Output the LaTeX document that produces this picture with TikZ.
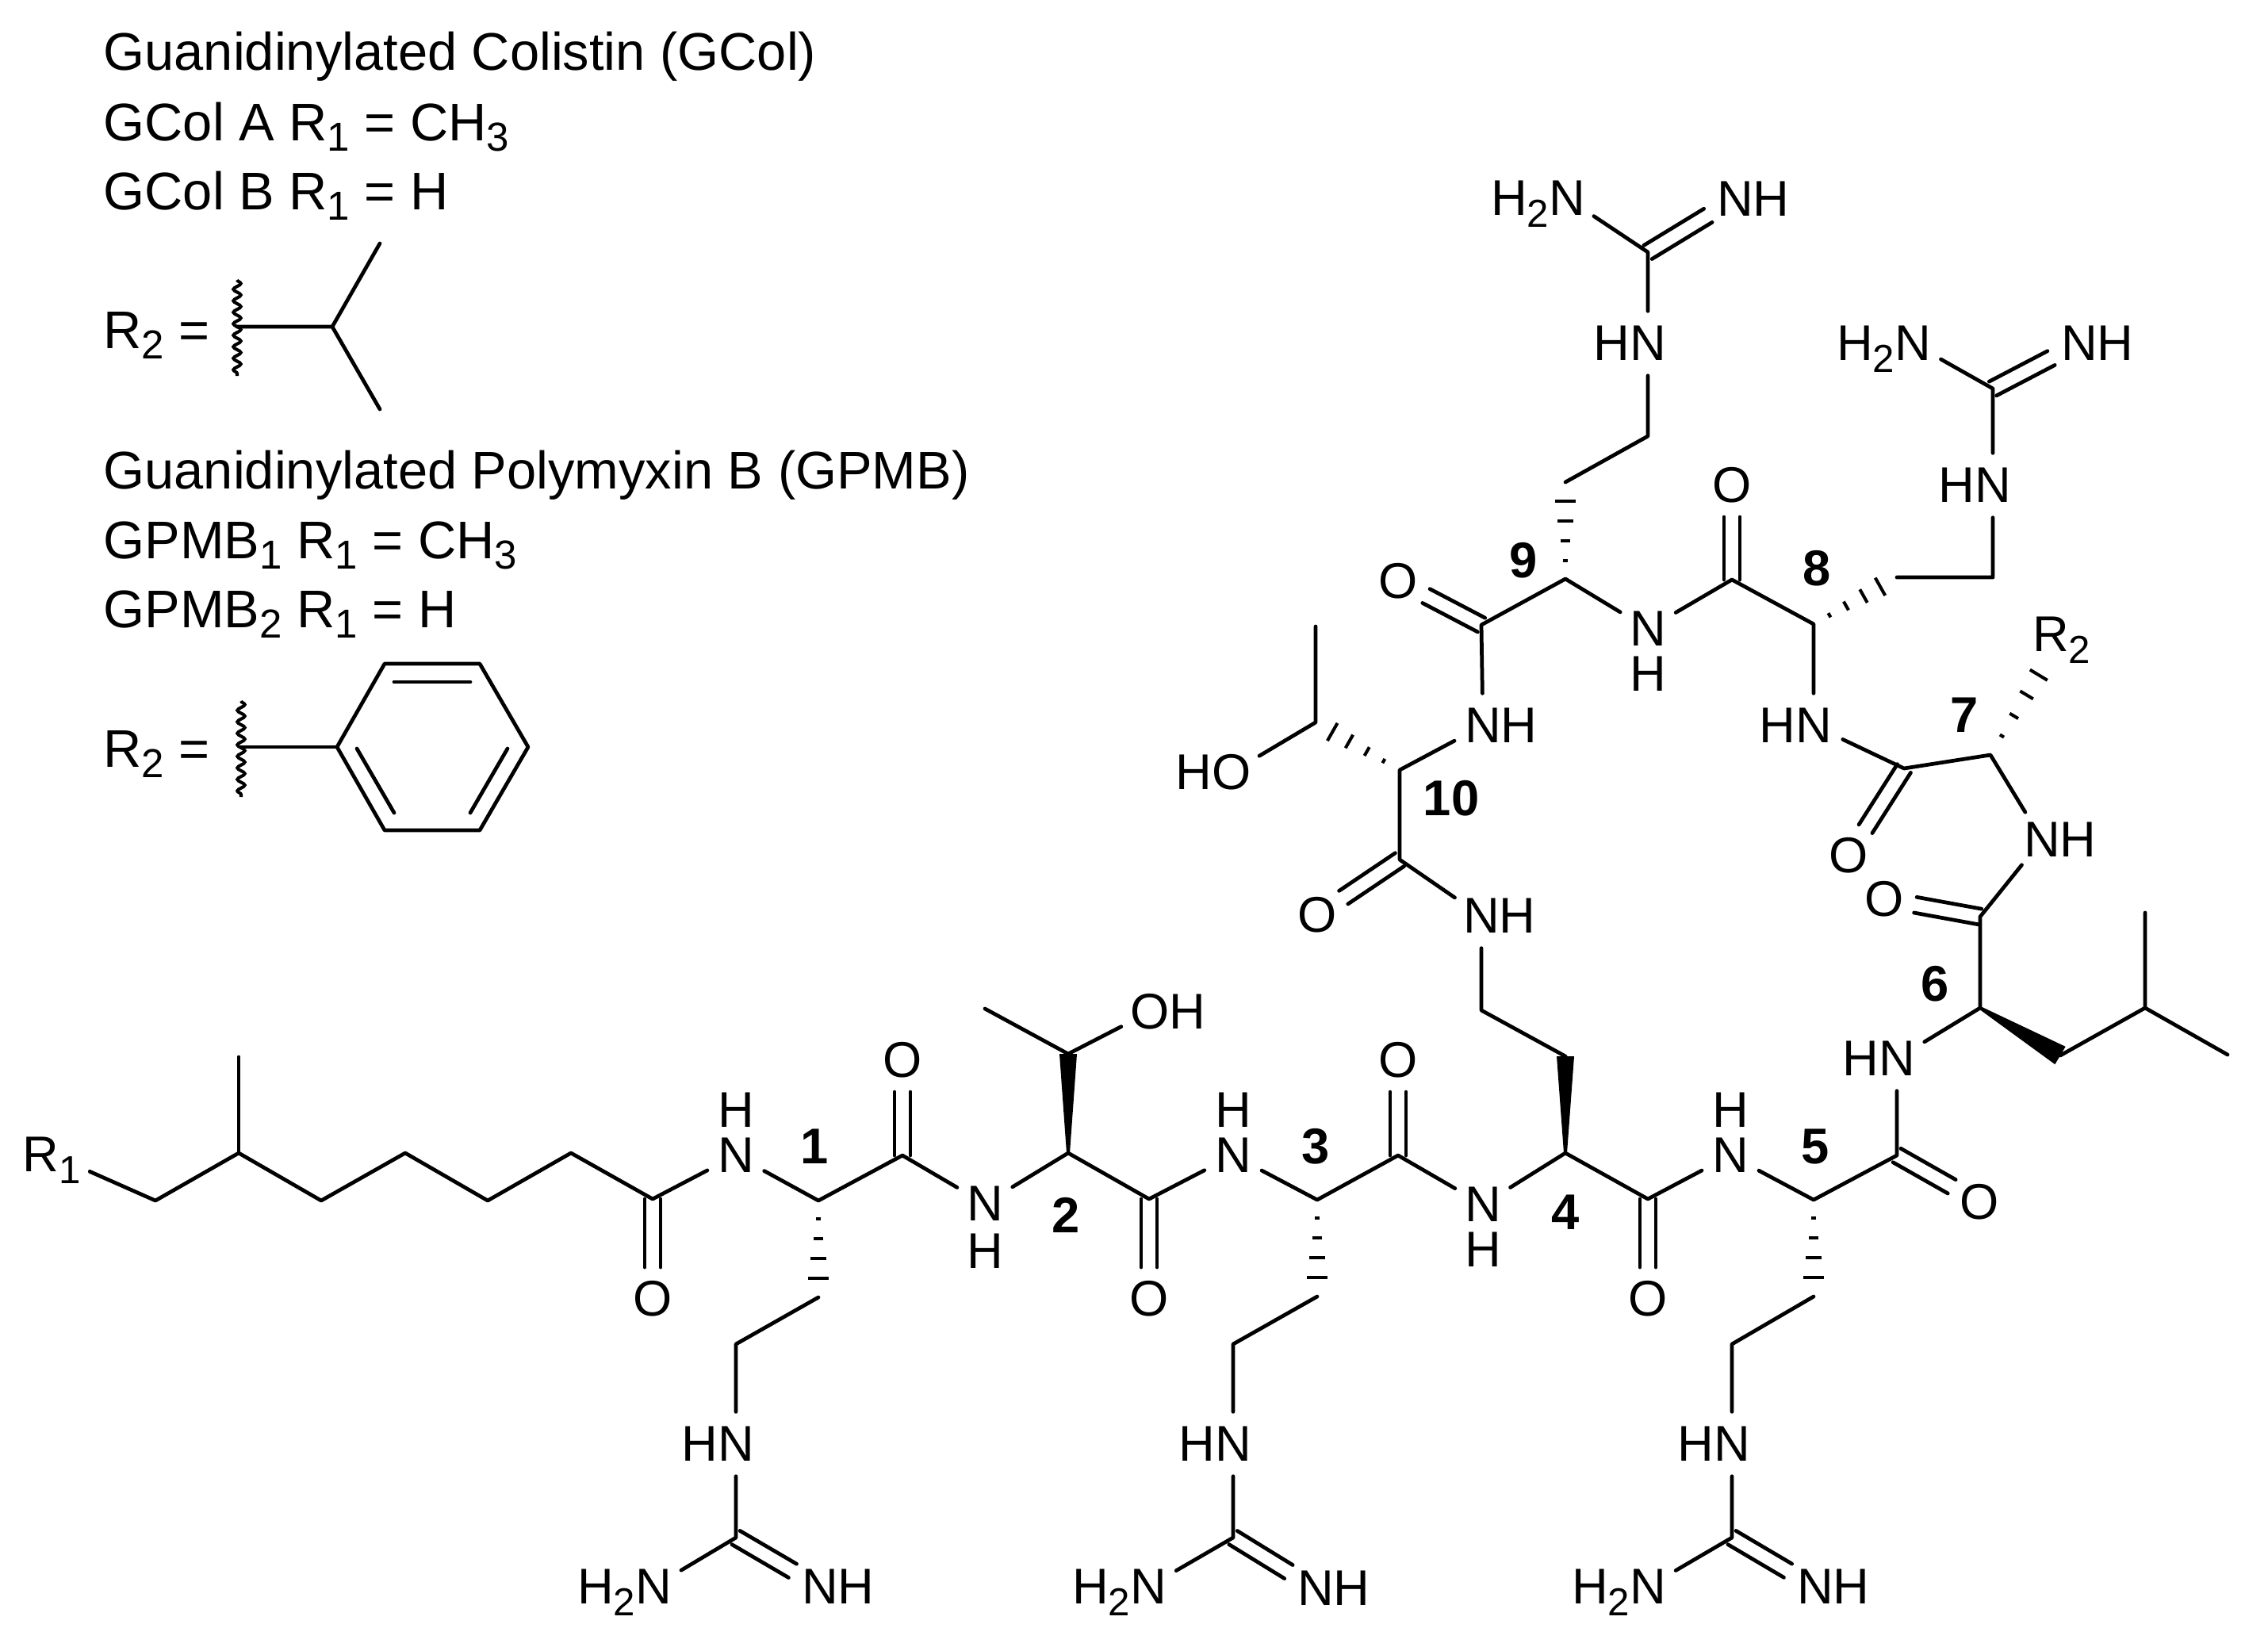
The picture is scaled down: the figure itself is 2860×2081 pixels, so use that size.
\documentclass[tikz,border=0pt]{standalone}
\usepackage{fontspec}
\setmainfont{Liberation Sans}
\usetikzlibrary{calc,decorations.pathmorphing}
\newcommand{\sbs}[1]{\smash{\raisebox{-4.2pt}{\fontsize{14}{14}\selectfont #1}}}
\newcommand{\sbh}[1]{\smash{\raisebox{-3.8pt}{\fontsize{14.5}{14.5}\selectfont #1}}}
\newcommand{\nhup}{N\llap{\smash{\raisebox{16.2pt}{H}}}}
\newcommand{\nhdown}[1]{N\llap{\smash{\raisebox{-#1}{H}}}}
\newcommand{\dblbond}[2]{%
  \draw[bondline,shorten >=0.4cm] ($(#1)!0.1cm!90:(#2)$) -- ($(#2)!0.1cm!-90:(#1)$);
  \draw[bondline,shorten >=0.4cm] ($(#1)!0.1cm!-90:(#2)$) -- ($(#2)!0.1cm!90:(#1)$);}
\newcommand{\hashbond}[2]{%
  \foreach \t in {.19,.39,.6,.8}{%
    \pgfmathsetmacro{\hw}{0.16*\t}
    \coordinate (hp) at ($(#1)!\t!(#2)$);
    \draw[hashline] ($(hp)!\hw cm!90:(#2)$) -- ($(hp)!\hw cm!-90:(#2)$);}}
\newcommand{\wedgebond}[3]{%
  \fill ($(#1)!0.02cm!90:(#2)$) -- ($(#2)!#3!-90:(#1)$) -- ($(#2)!#3!90:(#1)$) -- ($(#1)!0.02cm!-90:(#2)$) -- cycle;}
\tikzset{
  x=0.01cm,y=-0.01cm,
  bondline/.style={line width=1.35pt,line cap=round,line join=round},
  hashline/.style={line width=1.15pt},
  wavy/.style={line width=1.15pt,decorate,decoration={snake,amplitude=0.047cm,segment length=0.145cm}},
  atom/.style={circle,inner sep=0pt,minimum size=0.8cm,font=\fontsize{18}{20}\selectfont},
  hlabel/.style={inner sep=0pt,font=\fontsize{18}{20}\selectfont},
  num/.style={inner sep=0pt,font=\fontsize{18}{20}\selectfont\bfseries},
  head/.style={anchor=base west,inner sep=0pt,font=\fontsize{19}{22}\selectfont},
}
\begin{document}
\begin{tikzpicture}
\path[use as bounding box,fill=white] (0,0) rectangle (2860,2081);

% header text
\node[head] (t1) at (130,88) {Guanidinylated Colistin (GCol)};
\node[head] (t2) at (130,177) {GCol A R\sbh{1} = CH\sbh{3}};
\node[head] (t3) at (130,264) {GCol B R\sbh{1} = H};
\node[head] (t4) at (130,439) {R\sbh{2} =};
\node[head] (t5) at (130,616) {Guanidinylated Polymyxin B (GPMB)};
\node[head] (t6) at (130,704) {GPMB\sbh{1} R\sbh{1} = CH\sbh{3}};
\node[head] (t7) at (130,791) {GPMB\sbh{2} R\sbh{1} = H};
\node[head] (t8) at (130,967) {R\sbh{2} =};

% isopropyl
\coordinate (w1t) at (299,353); \coordinate (w1b) at (299,474);
\coordinate (w1m) at (299,412); \coordinate (ip) at (419,412);
\coordinate (ip1) at (479,307); \coordinate (ip2) at (479,516);
\draw[wavy] (w1t) -- (w1b);
\draw[bondline] (w1m) -- (ip) -- (ip1);
\draw[bondline] (ip) -- (ip2);

% phenyl
\coordinate (w2t) at (304,884); \coordinate (w2b) at (304,1005);
\coordinate (w2m) at (304,942);
\coordinate (ph1) at (425,942); \coordinate (ph2) at (485,837);
\coordinate (ph3) at (605,837); \coordinate (ph4) at (666,942);
\coordinate (ph5) at (605,1047); \coordinate (ph6) at (485,1047);
\coordinate (pa1) at (497,860); \coordinate (pa2) at (593,860);
\coordinate (pb1) at (640,944); \coordinate (pb2) at (593,1025);
\coordinate (pc1) at (450,944); \coordinate (pc2) at (497,1025);
\draw[wavy] (w2t) -- (w2b);
\draw[bondline] (w2m) -- (ph1);
\draw[bondline] (ph1) -- (ph2) -- (ph3) -- (ph4) -- (ph5) -- (ph6) -- cycle;
\draw[bondline] (pa1) -- (pa2);
\draw[bondline] (pb1) -- (pb2);
\draw[bondline] (pc1) -- (pc2);

% backbone carbons
\coordinate (ch1) at (196,1514); \coordinate (ch2) at (301,1454);
\coordinate (chm) at (301,1333); \coordinate (ch3) at (405,1514);
\coordinate (ch4) at (511,1454); \coordinate (ch5) at (615,1514);
\coordinate (ch6) at (720,1454);
\coordinate (co1) at (823,1512); \coordinate (ca1) at (1032,1514);
\coordinate (co2) at (1138,1457); \coordinate (ca2) at (1347,1454);
\coordinate (co3) at (1449,1512); \coordinate (ca3) at (1661,1513);
\coordinate (co4) at (1763,1457); \coordinate (ca4) at (1974,1454);
\coordinate (co5) at (2078,1512); \coordinate (ca5) at (2287,1513);
\coordinate (co6) at (2392,1457); \coordinate (ca6) at (2497,1271);
\coordinate (co7) at (2497,1156); \coordinate (ca7) at (2510,952);
\coordinate (co8) at (2401,969);  \coordinate (ca8) at (2287,787);
\coordinate (co9) at (2184,731);  \coordinate (ca9) at (1974,730);
\coordinate (co10) at (1868,788); \coordinate (ca10) at (1765,971);
\coordinate (co11) at (1765,1084);

% heteroatoms of the backbone
\node[atom,minimum size=1.04cm] (r1) at (65,1456) {R\sbs{1}};
\node[atom] (n1) at (928,1457) {\nhup};
\node[atom] (n2) at (1242,1518) {\nhdown{17pt}};
\node[atom] (n3) at (1555,1457) {\nhup};
\node[atom] (n4) at (1870,1519) {\nhdown{16.2pt}};
\node[atom] (n5) at (2182,1457) {\nhup};
\node[atom] (n6) at (2392,1335) {\llap{H}N};
\node[atom] (n7) at (2575,1059) {N\rlap{H}};
\node[atom] (n8) at (2287,915) {\llap{H}N};
\node[atom] (n9) at (2078,793) {\nhdown{16.2pt}};
\node[atom] (n10) at (1870,915) {N\rlap{H}};
\node[atom] (n11) at (1868,1155) {N\rlap{H}};

\node[atom] (o1) at (823,1638) {O};
\node[atom] (o2) at (1138,1337) {O};
\node[atom] (o3) at (1449,1638) {O};
\node[atom] (o4) at (1763,1337) {O};
\node[atom] (o5) at (2078,1638) {O};
\node[atom] (o6) at (2496,1516) {O};
\node[atom] (o7) at (2376,1134) {O};
\node[atom] (o8) at (2331,1079) {O};
\node[atom] (o9) at (2184,612) {O};
\node[atom] (o10) at (1763,733) {O};
\node[atom] (o11) at (1661,1154) {O};

% residue numbers
\node[num] (l1) at (1027,1446) {1};
\node[num] (l2) at (1344,1532) {2};
\node[num] (l3) at (1659,1446) {3};
\node[num] (l4) at (1974,1529) {4};
\node[num] (l5) at (2289,1446) {5};
\node[num] (l6) at (2440,1241) {6};
\node[num] (l7) at (2477,902) {7};
\node[num] (l8) at (2291,717) {8};
\node[num] (l9) at (1921,707) {9};
\node[num] (l10) at (1830,1007) {10};

% main chain
\draw[bondline] (r1) -- (ch1) -- (ch2) -- (ch3) -- (ch4) -- (ch5) -- (ch6) -- (co1) -- (n1);
\draw[bondline] (ch2) -- (chm);
\draw[bondline] (n1) -- (ca1) -- (co2) -- (n2) -- (ca2) -- (co3) -- (n3) -- (ca3) -- (co4) -- (n4) -- (ca4) -- (co5) -- (n5) -- (ca5) -- (co6) -- (n6) -- (ca6) -- (co7) -- (n7) -- (ca7) -- (co8) -- (n8) -- (ca8) -- (co9) -- (n9) -- (ca9) -- (co10) -- (n10) -- (ca10) -- (co11) -- (n11);
\dblbond{co1}{o1}
\dblbond{co2}{o2}
\dblbond{co3}{o3}
\dblbond{co4}{o4}
\dblbond{co5}{o5}
\dblbond{co6}{o6}
\dblbond{co7}{o7}
\dblbond{co8}{o8}
\dblbond{co9}{o9}
\dblbond{co10}{o10}
\dblbond{co11}{o11}

% residue 1 side chain
\coordinate (s1b) at (1032,1636); \coordinate (s1g) at (928,1695);
\coordinate (g1c) at (928,1939);
\node[atom] (g1n) at (928,1821) {\llap{H}N};
\node[atom] (g1a) at (824,2001) {\llap{H\sbs{2}}N};
\node[atom] (g1i) at (1034,2001) {N\rlap{H}};
\hashbond{ca1}{s1b}
\draw[bondline] (s1b) -- (s1g) -- (g1n) -- (g1c) -- (g1a);
\dblbond{g1c}{g1i}

% residue 2 side chain
\coordinate (s2b) at (1347,1329); \coordinate (s2m) at (1242,1272);
\node[atom] (s2o) at (1450,1276) {O\rlap{H}};
\wedgebond{ca2}{s2b}{0.11cm}
\draw[bondline] (s2m) -- (s2b) -- (s2o);

% residue 3 side chain
\coordinate (s3b) at (1661,1635); \coordinate (s3g) at (1555,1695);
\coordinate (g3c) at (1555,1939);
\node[atom] (g3n) at (1555,1821) {\llap{H}N};
\node[atom] (g3a) at (1448,2001) {\llap{H\sbs{2}}N};
\node[atom] (g3i) at (1659,2003) {N\rlap{H}};
\hashbond{ca3}{s3b}
\draw[bondline] (s3b) -- (s3g) -- (g3n) -- (g3c) -- (g3a);
\dblbond{g3c}{g3i}

% residue 4 side chain
\coordinate (s4b) at (1974,1332); \coordinate (s4g) at (1868,1274);
\wedgebond{ca4}{s4b}{0.11cm}
\draw[bondline] (s4b) -- (s4g) -- (n11);

% residue 5 side chain
\coordinate (s5b) at (2287,1635); \coordinate (s5g) at (2184,1695);
\coordinate (g5c) at (2184,1939);
\node[atom] (g5n) at (2184,1821) {\llap{H}N};
\node[atom] (g5a) at (2078,2001) {\llap{H\sbs{2}}N};
\node[atom] (g5i) at (2289,2001) {N\rlap{H}};
\hashbond{ca5}{s5b}
\draw[bondline] (s5b) -- (s5g) -- (g5n) -- (g5c) -- (g5a);
\dblbond{g5c}{g5i}

% residue 6 side chain
\coordinate (s6b) at (2598,1331); \coordinate (s6g) at (2705,1271);
\coordinate (s6m) at (2705,1151); \coordinate (s6n) at (2809,1330);
\wedgebond{ca6}{s6b}{0.13cm}
\draw[bondline] (s6b) -- (s6g) -- (s6m);
\draw[bondline] (s6g) -- (s6n);

% residue 7 side chain
\coordinate (s7e) at (2586,826);
\node[hlabel] (r2) at (2586,800) {R\rlap{\sbs{2}}};
\hashbond{ca7}{s7e}

% residue 8 side chain
\coordinate (s8b) at (2392,728); \coordinate (s8g) at (2513,728);
\coordinate (g8c) at (2513,490);
\node[atom] (g8n) at (2513,612) {\llap{H}N};
\node[atom] (g8a) at (2412,433) {\llap{H\sbs{2}}N};
\node[atom] (g8i) at (2622,433) {N\rlap{H}};
\hashbond{ca8}{s8b}
\draw[bondline] (s8b) -- (s8g) -- (g8n) -- (g8c) -- (g8a);
\dblbond{g8c}{g8i}

% residue 9 side chain
\coordinate (s9b) at (1974,608); \coordinate (s9g) at (2078,550);
\coordinate (g9c) at (2078,318);
\node[atom] (g9n) at (2078,433) {\llap{H}N};
\node[atom] (g9a) at (1976,250) {\llap{H\sbs{2}}N};
\node[atom] (g9i) at (2188,251) {N\rlap{H}};
\hashbond{ca9}{s9b}
\draw[bondline] (s9b) -- (s9g) -- (g9n) -- (g9c) -- (g9a);
\dblbond{g9c}{g9i}

% residue 10 side chain
\coordinate (s10b) at (1659,911); \coordinate (s10m) at (1659,790);
\node[atom] (s10o) at (1553,974) {\llap{H}O};
\hashbond{ca10}{s10b}
\draw[bondline] (s10m) -- (s10b) -- (s10o);
\end{tikzpicture}
\end{document}
